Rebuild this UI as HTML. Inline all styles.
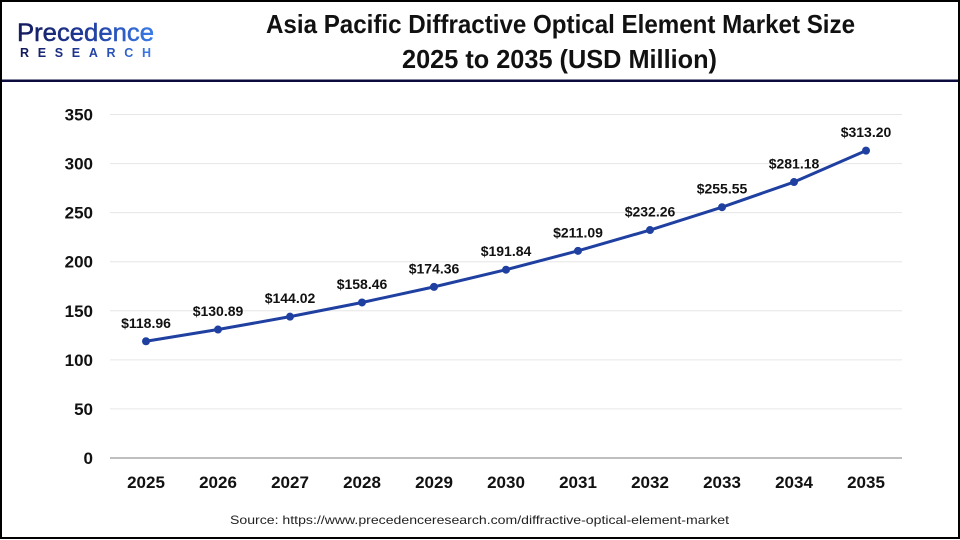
<!DOCTYPE html>
<html><head><meta charset="utf-8"><style>
html,body{margin:0;padding:0;background:#fff;}
svg{display:block;}
</style></head><body>
<svg width="960" height="540" viewBox="0 0 960 540" xmlns="http://www.w3.org/2000/svg">
<defs>
<linearGradient id="lg" x1="0" x2="1" y1="0" y2="0">
<stop offset="0" stop-color="#141a5a"/><stop offset="0.5" stop-color="#1f3a9a"/><stop offset="1" stop-color="#3a7be8"/>
</linearGradient>
</defs>
<rect x="0" y="0" width="960" height="540" fill="#fff"/>
<!-- logo -->
<text x="17" y="41" font-family="Liberation Sans, sans-serif" font-size="25" fill="url(#lg)" stroke="url(#lg)" stroke-width="0.5" textLength="137" lengthAdjust="spacingAndGlyphs">Precedence</text>
<text x="20" y="57" font-family="Liberation Sans, sans-serif" font-size="12.5" font-weight="bold" fill="url(#lg)" textLength="131" lengthAdjust="spacing">RESEARCH</text>
<!-- title -->
<g font-family="Liberation Sans, sans-serif" font-weight="bold" fill="#111" font-size="26">
<text x="266" y="33" textLength="589" lengthAdjust="spacingAndGlyphs">Asia Pacific Diffractive Optical Element Market Size</text>
<text x="402" y="68" textLength="315" lengthAdjust="spacingAndGlyphs">2025 to 2035 (USD Million)</text>
</g>
<rect x="0" y="79.5" width="960" height="2.5" fill="#0b0b3d"/>
<!-- gridlines -->
<g stroke="#e6e6e6" stroke-width="1">
<line x1="110" x2="902" y1="114.5" y2="114.5"/>
<line x1="110" x2="902" y1="163.57" y2="163.57"/>
<line x1="110" x2="902" y1="212.64" y2="212.64"/>
<line x1="110" x2="902" y1="261.71" y2="261.71"/>
<line x1="110" x2="902" y1="310.79" y2="310.79"/>
<line x1="110" x2="902" y1="359.86" y2="359.86"/>
<line x1="110" x2="902" y1="408.93" y2="408.93"/>
</g>
<line x1="110" x2="902" y1="458" y2="458" stroke="#bfbfbf" stroke-width="2"/>
<!-- y labels -->
<g font-family="Liberation Sans, sans-serif" font-weight="bold" font-size="17" fill="#111" text-anchor="end">
<text x="93" y="120.5">350</text>
<text x="93" y="169.6">300</text>
<text x="93" y="218.6">250</text>
<text x="93" y="267.7">200</text>
<text x="93" y="316.8">150</text>
<text x="93" y="365.9">100</text>
<text x="93" y="414.9">50</text>
<text x="93" y="464">0</text>
</g>
<!-- x labels -->
<g font-family="Liberation Sans, sans-serif" font-weight="bold" font-size="17" fill="#111" text-anchor="middle">
<text x="146" y="488">2025</text>
<text x="218" y="488">2026</text>
<text x="290" y="488">2027</text>
<text x="362" y="488">2028</text>
<text x="434" y="488">2029</text>
<text x="506" y="488">2030</text>
<text x="578" y="488">2031</text>
<text x="650" y="488">2032</text>
<text x="722" y="488">2033</text>
<text x="794" y="488">2034</text>
<text x="866" y="488">2035</text>
</g>
<!-- series -->
<polyline fill="none" stroke="#1f40a0" stroke-width="3" stroke-linejoin="round" points="146,341.25 218,329.54 290,316.65 362,302.48 434,286.88 506,269.72 578,250.83 650,230.05 722,207.2 794,182.04 866,150.62"/>
<g fill="#1f40a0">
<circle cx="146" cy="341.25" r="4"/>
<circle cx="218" cy="329.54" r="4"/>
<circle cx="290" cy="316.65" r="4"/>
<circle cx="362" cy="302.48" r="4"/>
<circle cx="434" cy="286.88" r="4"/>
<circle cx="506" cy="269.72" r="4"/>
<circle cx="578" cy="250.83" r="4"/>
<circle cx="650" cy="230.05" r="4"/>
<circle cx="722" cy="207.2" r="4"/>
<circle cx="794" cy="182.04" r="4"/>
<circle cx="866" cy="150.62" r="4"/>
</g>
<g font-family="Liberation Sans, sans-serif" font-weight="bold" font-size="14" fill="#111" text-anchor="middle">
<text x="146" y="327.8">$118.96</text>
<text x="218" y="316">$130.89</text>
<text x="290" y="303.1">$144.02</text>
<text x="362" y="289">$158.46</text>
<text x="434" y="273.4">$174.36</text>
<text x="506" y="256.2">$191.84</text>
<text x="578" y="237.3">$211.09</text>
<text x="650" y="216.5">$232.26</text>
<text x="722" y="193.7">$255.55</text>
<text x="794" y="168.5">$281.18</text>
<text x="866" y="137.1">$313.20</text>
</g>
<!-- source -->
<text x="230" y="524" font-family="Liberation Sans, sans-serif" font-size="12" fill="#222" textLength="499" lengthAdjust="spacingAndGlyphs">Source: https://www.precedenceresearch.com/diffractive-optical-element-market</text>
<!-- border -->
<rect x="1" y="1" width="958" height="537" fill="none" stroke="#000" stroke-width="2"/>
</svg>
</body></html>
